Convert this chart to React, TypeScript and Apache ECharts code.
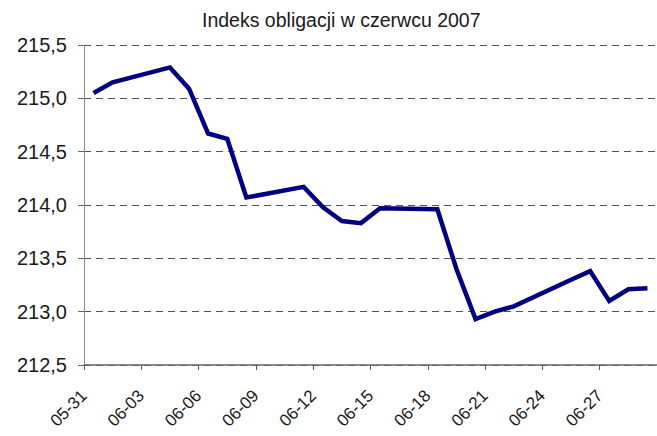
import React, { useEffect, useRef } from "react";
import * as echarts from "echarts";

const TITLE = "Indeks obligacji w czerwcu 2007";

// one category per calendar day, 05-31 .. 06-29
const dates = [
  "05-31", "06-01", "06-02", "06-03", "06-04", "06-05", "06-06", "06-07", "06-08", "06-09",
  "06-10", "06-11", "06-12", "06-13", "06-14", "06-15", "06-16", "06-17", "06-18", "06-19",
  "06-20", "06-21", "06-22", "06-23", "06-24", "06-25", "06-26", "06-27", "06-28", "06-29",
];

// index values (null = no quotation, weekend)
const values: (number | null)[] = [
  215.05, 215.15, null, null, 215.29, 215.09, 214.67, 214.62, 214.07, null,
  null, 214.17, 213.98, 213.85, 213.83, 213.97, null, null, 213.96, 213.4,
  212.93, 213.0, 213.05, null, null, 213.3, 213.38, 213.1, 213.21, 213.22,
];

const yMin = 212.5;
const yMax = 215.5;
const yStep = 0.5;
const labelStepDays = 3;

const FONT = '"Liberation Sans", Arial, Helvetica, sans-serif';

export default function App() {
  const ref = useRef<HTMLDivElement>(null);

  useEffect(() => {
    document.body.style.margin = "0";
    if (!ref.current) return;
    const chart = echarts.init(ref.current, null, { renderer: "svg" });
    chart.setOption({
      animation: false,
      backgroundColor: "#ffffff",
      textStyle: { fontFamily: FONT },
      title: {
        text: TITLE,
        left: 197,
        top: 5,
        textStyle: { fontFamily: FONT, fontSize: 19.5, fontWeight: "normal", color: "#1a1a1a" },
      },
      grid: { left: 84, top: 45, height: 320, width: 578 },
      xAxis: [
        {
          type: "category",
          data: dates,
          boundaryGap: true,
          axisLine: { show: true, lineStyle: { color: "#666666", width: 1.5 } },
          axisTick: { show: false },
          axisLabel: { show: false },
          splitLine: { show: false },
        },
        {
          type: "value",
          position: "bottom",
          offset: 0,
          min: 0,
          max: dates.length,
          interval: labelStepDays,
          axisLine: { show: false },
          axisTick: { show: true, length: 5, lineStyle: { color: "#555555", width: 1 } },
          axisLabel: {
            rotate: 45,
            margin: 28,
            fontSize: 17,
            color: "#1a1a1a",
            fontFamily: FONT,
            showMaxLabel: false,
            formatter: (v: number) => (v < dates.length ? dates[v] : ""),
          },
          splitLine: { show: false },
        },
      ],
      yAxis: {
        type: "value",
        min: yMin,
        max: yMax,
        interval: yStep,
        axisLine: { show: true, lineStyle: { color: "#888888", width: 1 } },
        axisTick: { show: true, length: 6, lineStyle: { color: "#666666" } },
        axisLabel: {
          margin: 17,
          fontSize: 20,
          color: "#1a1a1a",
          fontFamily: FONT,
          formatter: (v: number) => v.toFixed(1).replace(".", ","),
        },
        splitLine: { show: true, lineStyle: { color: "#555555", type: [7, 5], width: 1 } },
      },
      series: [
        {
          type: "line",
          xAxisIndex: 0,
          data: values,
          connectNulls: true,
          symbol: "none",
          lineStyle: { color: "#000080", width: 4.5, join: "miter" },
        },
      ],
    });
    return () => chart.dispose();
  }, []);

  return <div ref={ref} style={{ width: 657, height: 436 }} />;
}
